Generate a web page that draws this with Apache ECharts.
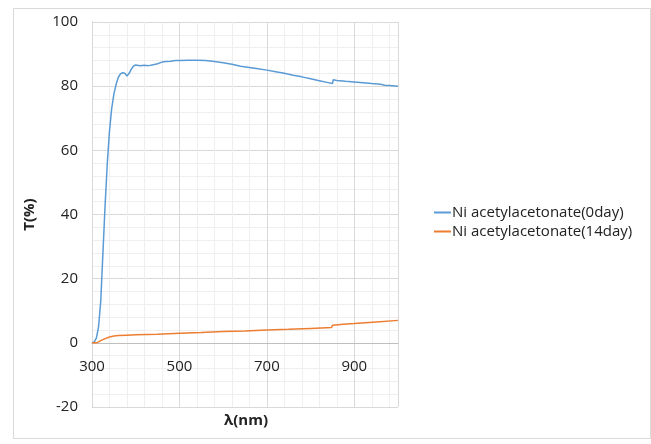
<!DOCTYPE html>
<html>
<head>
<meta charset="utf-8">
<script src="https://cdn.jsdelivr.net/npm/echarts@6/dist/echarts.min.js"></script>
<style>
  html, body { margin: 0; padding: 0; background: #fff; }
  #container { width: 651px; height: 444px; }
</style>
</head>
<body>
<div id="container"></div>
<script>
// wavelength (nm) / transmittance (%)
var wl0 = [300, 305, 310, 315, 320, 325, 330, 335, 340, 345, 350, 355, 360, 365, 370, 375, 380, 385, 390, 395,
           400, 410, 420, 430, 440, 450, 460, 470, 480, 490, 500, 520, 540, 560, 580, 600, 620, 640, 660, 680,
           700, 720, 740, 760, 780, 800, 820, 840, 850, 852, 860, 880, 900, 920, 940, 960, 970, 980, 1000];
var t0 = [0, 0.3, 1.5, 5, 13, 28, 43, 56, 66, 73, 77.5, 80.5, 82.7, 83.8, 84.2, 84, 83.2, 84, 85.3, 86.3,
          86.6, 86.4, 86.5, 86.4, 86.7, 87, 87.5, 87.7, 87.8, 88, 88, 88.1, 88.1, 88, 87.7, 87.3, 86.8, 86.2, 85.8, 85.4,
          85.0, 84.5, 84.0, 83.4, 82.9, 82.3, 81.7, 81.1, 80.8, 82.0, 81.8, 81.5, 81.3, 81.1, 80.8, 80.6, 80.3, 80.2, 80.0];
var wl14 = [300, 310, 315, 320, 330, 340, 350, 360, 380, 400, 450, 500, 550, 600, 650, 700, 750, 800, 848, 850, 875, 900, 950, 1000];
var t14 = [0, 0, 0.3, 0.7, 1.3, 1.8, 2.1, 2.3, 2.4, 2.5, 2.7, 3.0, 3.2, 3.5, 3.7, 4.0, 4.2, 4.5, 4.8, 5.5, 5.8, 6.0, 6.5, 7.0];

var seriesNames = ['Ni acetylacetonate(0day)', 'Ni acetylacetonate(14day)'];
var xTicks = [300, 500, 700, 900];

function pairs(xs, ys) {
    var out = [];
    for (var i = 0; i < xs.length; i++) out.push([xs[i], ys[i]]);
    return out;
}

var dom = document.getElementById('container');
var myChart = echarts.init(dom);
var font = '"Open Sans", "Liberation Sans", sans-serif';

var option = {
    animation: false,
    textStyle: { fontFamily: font },
    graphic: [
        { type: 'rect', left: 11, top: 6, shape: { width: 637, height: 430 },
          style: { fill: 'none', stroke: '#d9d9d9', lineWidth: 1 }, z: -10 },
        { type: 'text', left: 224, top: 413,
          style: { text: 'λ(nm)', fill: '#222', font: 'bold 15px ' + font } }
    ],
    grid: { left: 92, right: 253, top: 22, bottom: 37, containLabel: false },
    legend: {
        orient: 'vertical',
        left: 429,
        top: 200,
        icon: 'rect',
        itemWidth: 17,
        itemHeight: 2,
        itemGap: 4,
        textStyle: { fontSize: 15, color: '#222', fontFamily: font, padding: [0, 0, 0, -4] },
        data: seriesNames
    },
    xAxis: [
        {
            // axis sits on T = 0 (grid bottom is T = -20)
            type: 'value', min: 300, max: 1000, interval: 200, z: 1,
            position: 'bottom', offset: -64,
            axisLine: { onZero: false, lineStyle: { color: '#bfbfbf', width: 1 } },
            axisTick: { show: false },
            axisLabel: { fontSize: 15, color: '#222', margin: 16, showMaxLabel: false,
                formatter: function (v) { return xTicks.indexOf(v) >= 0 ? v : ''; } },
            splitLine: { show: true, lineStyle: { color: '#d9d9d9' } }
        },
        {
            type: 'value', min: 300, max: 1000, interval: 40, z: 0, position: 'top',
            axisLine: { show: false, onZero: false }, axisTick: { show: false }, axisLabel: { show: false },
            splitLine: { show: true, lineStyle: { color: '#efefef' } }
        }
    ],
    yAxis: {
        type: 'value', min: -20, max: 100, interval: 20,
        name: 'T(%)', nameLocation: 'middle', nameGap: 55,
        nameTextStyle: { fontSize: 15, fontWeight: 'bold', color: '#222' },
        axisLine: { show: true, onZero: false, lineStyle: { color: '#bfbfbf' } },
        axisTick: { show: false },
        axisLabel: { fontSize: 15, color: '#222', margin: 14 },
        splitLine: { show: true, lineStyle: { color: '#d9d9d9' } },
        minorTick: { show: false, splitNumber: 5 },
        minorSplitLine: { show: true, lineStyle: { color: '#efefef' } }
    },
    series: [
        {
            name: seriesNames[0], type: 'line', showSymbol: false, symbol: 'none',
            lineStyle: { color: '#5b9bd5', width: 1.5 }, itemStyle: { color: '#5b9bd5' },
            data: pairs(wl0, t0)
        },
        {
            name: seriesNames[1], type: 'line', showSymbol: false, symbol: 'none',
            lineStyle: { color: '#ed7d31', width: 1.5 }, itemStyle: { color: '#ed7d31' },
            data: pairs(wl14, t14)
        }
    ]
};

if (option && typeof option === 'object') {
    myChart.setOption(option, true);
}
</script>
</body>
</html>
